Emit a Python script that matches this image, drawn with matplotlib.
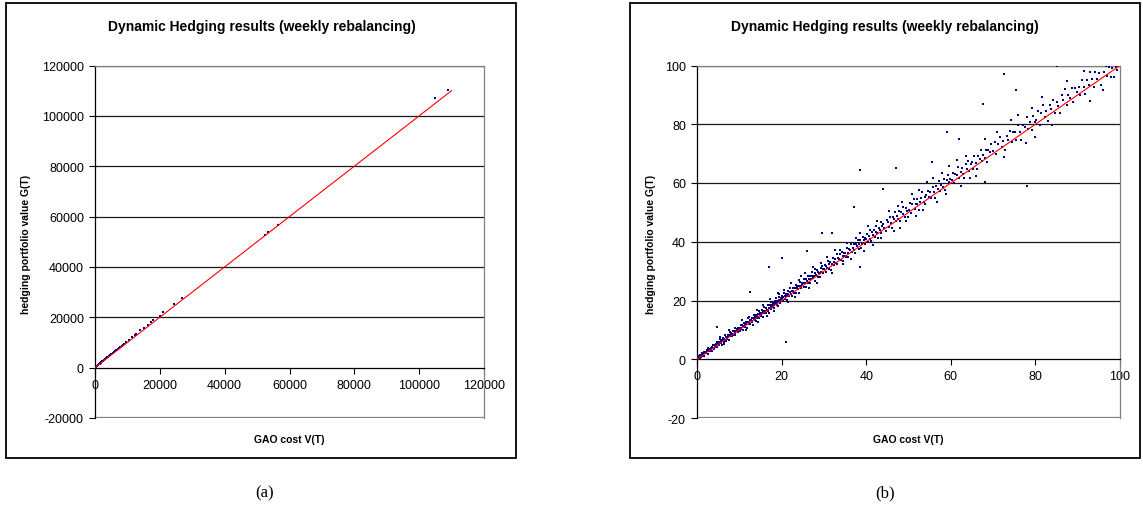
import matplotlib.pyplot as plt
from matplotlib.patches import Rectangle

plt.rcParams["font.family"] = ["Liberation Sans", "DejaVu Sans"]
plt.rcParams["axes.unicode_minus"] = False

# GAO cost V(T) vs hedging portfolio value G(T) (0-100)
gao_cost = [
    # 0-5
    0.1, 0.2, 0.3, 0.4, 0.5, 0.6, 0.7, 0.8, 0.9, 1.0, 1.1, 1.2, 1.4, 1.5, 1.6, 1.7, 1.9, 2.0, 2.1, 2.3,
    2.4, 2.5, 2.7, 2.8, 2.9, 3.1, 3.2, 3.3, 3.5, 3.6, 3.7, 3.9, 4.0, 4.1, 4.3, 4.4, 4.5, 4.7, 4.8, 4.9,
    # 5-10
    5.0, 5.1, 5.2, 5.3, 5.5, 5.6, 5.7, 5.8, 5.9, 6.1, 6.2, 6.3, 6.4, 6.6, 6.7, 6.8, 6.9, 7.0, 7.2, 7.3,
    7.4, 7.5, 7.7, 7.8, 7.9, 8.0, 8.1, 8.3, 8.4, 8.5, 8.6, 8.8, 8.9, 9.0, 9.1, 9.2, 9.4, 9.5, 9.6, 9.7,
    9.8, 9.9, 5.4, 6.5, 7.6,
    # 10-15
    10.0, 10.1, 10.3, 10.4, 10.5, 10.7, 10.8, 10.9, 11.0, 11.2, 11.3, 11.4, 11.6, 11.7, 11.8, 12.0,
    12.1, 12.2, 12.4, 12.5, 12.6, 12.8, 12.9, 13.0, 13.1, 13.3, 13.4, 13.5, 13.7, 13.8, 13.9, 14.0,
    14.2, 14.3, 14.4, 14.6, 14.7, 14.8, 14.9, 10.6, 11.5, 12.3, 13.2, 14.1, 14.5,
    # 15-20
    15.0, 15.1, 15.3, 15.4, 15.5, 15.7, 15.8, 15.9, 16.0, 16.2, 16.3, 16.4, 16.6, 16.7, 16.8, 17.0,
    17.1, 17.2, 17.4, 17.5, 17.6, 17.8, 17.9, 18.0, 18.1, 18.3, 18.4, 18.5, 18.7, 18.8, 18.9, 19.0,
    19.2, 19.3, 19.4, 19.6, 19.7, 19.8, 19.9, 15.6, 16.5, 17.3, 18.2, 19.1, 19.5,
    # 20-25
    20.0, 20.1, 20.3, 20.4, 20.6, 20.7, 20.9, 21.0, 21.2, 21.3, 21.5, 21.6, 21.8, 21.9, 22.1, 22.2,
    22.4, 22.5, 22.7, 22.8, 23.0, 23.1, 23.3, 23.4, 23.6, 23.7, 23.9, 24.0, 24.2, 24.3, 24.5, 24.6,
    24.8, 24.9, 20.5, 21.4, 22.3, 23.2, 24.1, 24.7,
    # 25-30
    25.0, 25.2, 25.3, 25.5, 25.7, 25.8, 26.0, 26.2, 26.3, 26.5, 26.7, 26.8, 27.0, 27.2, 27.3, 27.5,
    27.7, 27.8, 28.0, 28.2, 28.3, 28.5, 28.7, 28.8, 29.0, 29.2, 29.3, 29.5, 29.7, 29.8, 25.6, 26.4,
    27.4, 28.4, 29.4, 27.9,
    # 30-35
    30.0, 30.2, 30.4, 30.5, 30.7, 30.9, 31.1, 31.3, 31.5, 31.7, 31.9, 32.1, 32.3, 32.5, 32.6, 32.8,
    33.0, 33.2, 33.4, 33.6, 33.8, 34.0, 34.2, 34.4, 34.6, 34.8, 34.9, 30.8, 31.8, 32.7, 33.7, 34.5,
    # 35-40
    35.0, 35.2, 35.4, 35.6, 35.8, 36.0, 36.2, 36.4, 36.6, 36.8, 37.0, 37.2, 37.4, 37.6, 37.8, 38.0,
    38.2, 38.4, 38.6, 38.8, 39.0, 39.2, 39.4, 39.6, 39.8, 35.5, 36.5, 37.5, 38.5, 39.5,
    # 40-45
    40.0, 40.2, 40.4, 40.6, 40.8, 41.0, 41.2, 41.4, 41.6, 41.8, 42.0, 42.2, 42.4, 42.6, 42.8, 43.0,
    43.2, 43.4, 43.6, 43.8, 44.0, 44.3, 44.6, 44.9, 40.5, 41.5, 42.5, 43.5,
    # 45-50
    45.1, 45.3, 45.6, 45.8, 46.1, 46.3, 46.6, 46.8, 47.1, 47.3, 47.6, 47.8, 48.1, 48.3, 48.6, 48.8,
    49.1, 49.3, 49.6, 49.8, 45.5, 46.5, 47.5, 48.5, 49.5, 48.0,
    # 50-55
    50.1, 50.3, 50.6, 50.9, 51.2, 51.5, 51.8, 52.1, 52.4, 52.7, 53.0, 53.3, 53.6, 53.9, 54.2, 54.5,
    54.8, 50.8, 51.7, 52.6, 53.5, 54.4, 52.0, 54.0,
    # 55-60
    55.1, 55.4, 55.7, 56.0, 56.3, 56.6, 56.9, 57.2, 57.5, 57.8, 58.1, 58.4, 58.7, 59.0, 59.3, 59.6,
    59.9, 55.8, 56.8, 57.9, 58.9, 59.5,
    # 60-65
    60.2, 60.5, 60.8, 61.1, 61.4, 61.7, 62.0, 62.3, 62.6, 62.9, 63.2, 63.5, 63.8, 64.1, 64.4, 64.7,
    61.5, 62.5, 63.5, 64.5,
    # 65-70
    65.0, 65.3, 65.6, 65.9, 66.2, 66.5, 66.8, 67.1, 67.4, 67.7, 68.0, 68.3, 68.6, 68.9, 69.2, 69.5,
    66.0, 68.2,
    # 70-75
    70.0, 70.4, 70.8, 71.2, 71.6, 72.0, 72.4, 72.8, 73.2, 73.6, 74.0, 74.4, 74.8, 71.0, 72.6, 74.2,
    # 75-80
    75.1, 75.5, 75.9, 76.3, 76.7, 77.1, 77.5, 77.9, 78.3, 78.7, 79.1, 79.5, 79.9, 76.0, 77.7, 79.3,
    # 80-90
    80.2, 80.6, 81.0, 81.4, 81.8, 82.2, 82.6, 83.0, 83.4, 83.8, 84.2, 84.6, 85.0, 85.4, 85.8, 86.2,
    86.6, 87.0, 87.4, 87.8, 88.2, 88.6, 89.0, 89.4, 89.8, 81.5, 84.0, 87.5,
    # 90-100
    90.2, 90.6, 91.0, 91.4, 91.8, 92.2, 92.6, 93.0, 93.4, 93.8, 94.2, 94.6, 95.0, 95.4, 95.8, 96.2,
    96.6, 97.0, 97.4, 97.8, 98.2, 98.6, 99.0, 99.4, 91.5, 96.0,
]
hedge_value = [
    0.4, 0.1, 1.0, 0.6, 1.0, 0.3, 1.6, 0.9, 1.3, 0.6, 1.7, 2.0, 1.2, 1.8, 2.6, 1.2, 2.4, 2.2, 2.0, 3.0,
    2.8, 1.9, 3.8, 2.8, 3.5, 2.8, 4.0, 3.6, 2.8, 4.1, 4.9, 4.0, 3.6, 5.0, 4.5, 4.2, 5.1, 6.0, 4.3, 5.3,
    5.2, 6.0, 4.8, 5.9, 6.8, 5.5, 6.1, 5.0, 6.7, 6.2, 7.3, 6.0, 6.9, 6.6, 8.1, 6.2, 7.6, 7.3, 7.0, 8.3,
    7.8, 6.6, 8.3, 9.3, 7.8, 8.2, 9.0, 7.8, 8.7, 9.7, 8.4, 9.5, 8.9, 10.6, 8.4, 9.7, 9.5, 10.3, 9.2, 10.8,
    10.1, 9.8, 7.5, 5.2, 10.0,
    10.5, 9.5, 11.5, 10.6, 10.3, 11.6, 9.9, 11.3, 12.5, 11.2, 12.0, 11.0, 12.7, 12.0, 10.7, 12.6,
    13.9, 12.0, 12.6, 13.5, 11.9, 13.3, 14.2, 13.1, 12.6, 14.1, 13.7, 15.1, 13.4, 14.4, 12.9, 15.2,
    14.6, 14.2, 15.3, 16.5, 14.1, 15.1, 15.6, 13.2, 9.9, 14.5, 11.8, 16.9, 12.7,
    15.8, 14.7, 16.8, 15.6, 14.5, 16.3, 17.7, 15.7, 16.4, 17.4, 15.6, 17.3, 16.6, 18.3, 16.5, 17.5,
    15.9, 18.3, 17.7, 19.5, 17.1, 18.5, 19.3, 17.9, 18.3, 17.5, 19.7, 19.1, 20.9, 18.4, 19.0, 20.0,
    18.1, 20.1, 21.1, 19.9, 19.1, 21.0, 20.4, 18.5, 14.8, 20.4, 16.3, 22.5, 22.1,
    20.4, 21.7, 19.7, 21.3, 22.7, 20.5, 21.5, 22.3, 20.1, 21.5, 23.3, 22.1, 21.4, 22.9, 24.4, 22.2,
    23.1, 21.6, 24.2, 23.1, 22.7, 24.2, 25.3, 22.7, 24.1, 25.1, 24.0, 22.7, 25.1, 26.2, 24.9, 24.1,
    26.0, 25.5, 23.7, 19.6, 25.8, 21.2, 27.0, 28.5,
    26.0, 24.7, 27.2, 25.8, 24.7, 27.2, 26.6, 28.4, 26.1, 27.4, 28.3, 26.0, 27.2, 28.4, 29.8, 27.5,
    28.4, 26.6, 29.5, 28.6, 30.3, 28.1, 29.8, 29.4, 28.1, 31.0, 29.6, 31.9, 29.4, 30.8, 29.2, 24.3,
    31.4, 26.1, 32.7, 30.7,
    30.6, 32.2, 29.7, 31.7, 30.9, 33.5, 30.8, 32.3, 33.2, 30.5, 32.4, 34.3, 33.2, 32.0, 34.0, 32.9,
    35.8, 32.3, 34.5, 34.0, 35.7, 33.8, 36.6, 35.1, 33.5, 36.3, 35.2, 34.7, 29.4, 37.1, 37.3, 32.5,
    36.3, 34.8, 37.8, 36.1, 34.8, 37.7, 37.1, 39.3, 36.4, 38.0, 37.3, 39.3, 36.1, 39.1, 38.4, 40.6,
    37.7, 39.4, 40.5, 37.9, 39.4, 41.5, 40.5, 39.3, 41.4, 39.7, 34.2, 41.4, 43.1, 36.9,
    40.8, 42.8, 39.8, 42.1, 41.0, 44.0, 40.1, 43.3, 42.3, 44.1, 41.7, 43.4, 45.2, 43.0, 41.4, 44.7,
    44.1, 46.6, 43.1, 45.2, 46.1, 44.6, 43.6, 47.4, 45.3, 38.8, 47.0, 41.3,
    46.7, 44.9, 48.3, 46.4, 44.8, 48.3, 47.7, 50.1, 46.9, 48.8, 47.9, 50.3, 47.1, 50.1, 49.4, 51.8,
    48.5, 51.5, 50.6, 48.3, 50.5, 43.7, 52.1, 53.7, 47.1, 44.7,
    50.8, 53.2, 49.8, 52.7, 54.6, 51.2, 53.0, 54.5, 50.9, 53.6, 55.0, 56.9, 53.7, 52.8, 55.8, 57.2,
    55.2, 56.2, 48.7, 57.5, 50.9, 60.2, 53.0, 55.3,
    57.0, 54.9, 58.8, 56.8, 54.9, 58.9, 58.1, 60.8, 57.4, 59.4, 58.6, 61.2, 57.5, 61.0, 62.7, 60.3,
    61.4, 61.8, 53.6, 63.4, 56.2, 65.8,
    61.0, 63.5, 59.9, 63.2, 62.7, 65.4, 61.6, 63.9, 65.1, 63.1, 61.7, 66.3, 64.8, 67.5, 64.2, 66.6,
    67.9, 59.1, 69.3, 61.6,
    67.1, 64.7, 69.1, 66.9, 64.6, 69.1, 68.2, 71.1, 67.4, 69.6, 68.6, 71.4, 67.3, 71.3, 70.4, 73.2,
    62.4, 75.0,
    71.0, 73.8, 69.8, 73.4, 75.8, 72.4, 74.2, 71.2, 76.1, 74.7, 77.8, 73.9, 77.2, 77.5, 68.8, 81.4,
    77.4, 74.7, 79.8, 77.5, 74.8, 79.8, 79.0, 82.3, 78.5, 80.7, 77.9, 82.7, 80.9, 83.0, 73.7, 85.4,
    81.4, 84.4, 79.9, 83.9, 86.4, 82.5, 84.6, 81.2, 86.7, 85.2, 88.4, 84.0, 87.7, 86.3, 83.8, 89.8,
    88.4, 91.9, 86.5, 90.1, 88.8, 92.5, 87.5, 92.2, 90.9, 89.3, 79.7, 94.7,
    92.6, 89.8, 95.1, 92.7, 90.2, 95.2, 93.3, 97.8, 95.3, 92.6, 97.7, 95.5, 97.6, 93.3, 100.1, 97.8,
    99.8, 96.4, 99.6, 96.0, 99.3, 96.2, 99.5, 98.5, 98.0, 91.5,
]

# isolated points well away from the band
gao_cost_outlier = [38.5, 47.0, 21.0, 72.5, 75.5, 67.5, 78.0, 17.0, 12.5, 38.5, 37.0, 20.0,
                    29.5, 32.0, 59.0, 62.0, 68.0, 85.0, 4.7, 26.0, 44.0, 55.5, 80.0, 93.0]
hedge_value_outlier = [64.5, 65.0, 6.0, 97.0, 91.5, 87.0, 59.0, 31.5, 23.0, 31.5, 52.0, 34.5,
                       43.0, 43.0, 77.5, 75.0, 60.5, 100.0, 11.1, 37.0, 58.0, 67.0, 75.5, 88.0]

# large-cost scenarios only visible on the full-range panel
gao_cost_large = [
    150, 300, 450, 600, 800, 1000, 1200, 1400, 1600, 1800, 2000, 2300, 2600, 2900, 3200, 3500, 3800,
    4100, 4400, 4700, 5000, 5400, 5800, 6200, 6600, 7000, 7400, 7800, 8200, 8600, 9000, 9500, 10500,
    11500, 12200, 12800, 14000, 15200, 16300, 17200, 18000, 20000, 21000, 24500, 26800, 52400, 53300,
    56500, 105000, 109000,
]
hedge_value_large = [
    180, 340, 500, 660, 870, 1080, 1300, 1510, 1720, 1930, 2150, 2470, 2790, 3110, 3430, 3750, 4070,
    4390, 4700, 5020, 5340, 5760, 6180, 6600, 7030, 7450, 7870, 8290, 8720, 9140, 9560, 10000, 11050,
    12100, 12800, 13400, 14800, 15700, 17000, 18100, 18900, 20600, 22100, 25200, 27500, 52500, 54000,
    56800, 107000, 110200,
]

# reference line G(T) = V(T)
diag_x = [0, 110000]
diag_y = [0, 110000]

panels = [
    dict(rect=[95 / 1143, 91 / 510, 389 / 1143, 352.5 / 510],
         xlim=(0, 120000), ylim=(-20000, 120000), step=20000, msize=2.8,
         box=(6, 4, 510, 455), title_x=262, ylab_x=26, cap="(a)", cap_x=265),
    dict(rect=[697 / 1143, 91 / 510, 423 / 1143, 352.5 / 510],
         xlim=(0, 100), ylim=(-20, 100), step=20, msize=4.3,
         box=(630, 4, 510, 455), title_x=885, ylab_x=651, cap="(b)", cap_x=885),
]

fig = plt.figure(figsize=(11.43, 5.10), dpi=100)

xs = gao_cost + gao_cost_outlier + gao_cost_large
ys = hedge_value + hedge_value_outlier + hedge_value_large

for p in panels:
    # outer chart frame
    bx, by, bw, bh = p["box"]
    fig.patches.append(Rectangle((bx / 1143, 1 - (by + bh) / 510), bw / 1143, bh / 510,
                                 transform=fig.transFigure, fill=False,
                                 edgecolor="black", linewidth=1.3))

    ax = fig.add_axes(p["rect"])
    ax.scatter(xs, ys, s=p["msize"], marker="s", color="#000080", linewidths=0, zorder=3)
    ax.plot(diag_x, diag_y, color="#ff0000", linewidth=0.8, zorder=4)

    lo, hi = p["xlim"]
    ax.set_xlim(lo, hi)
    ax.set_ylim(*p["ylim"])
    ticks_y = list(range(p["ylim"][0], p["ylim"][1] + 1, p["step"]))
    ticks_x = list(range(lo, hi + 1, p["step"]))
    ax.set_yticks(ticks_y)
    ax.set_xticks(ticks_x)
    ax.tick_params(axis="both", direction="out", length=4, width=0.8,
                   labelsize=9, pad=4, color="black")

    for t in ticks_y[2:]:
        ax.axhline(t, color="#1a1a1a", linewidth=0.9, zorder=1)

    # plot-area border in gray, axes in black
    ax.spines["top"].set_color("#808080")
    ax.spines["right"].set_color("#808080")
    ax.spines["left"].set_color("black")
    ax.spines["bottom"].set_position(("data", 0))
    ax.spines["bottom"].set_color("black")
    ax.axhline(p["ylim"][0], color="#808080", linewidth=1.6, zorder=1)
    for s in ax.spines.values():
        s.set_linewidth(0.9)

    fig.text(p["title_x"] / 1143, 1 - 27 / 510,
             "Dynamic Hedging results (weekly rebalancing)",
             ha="center", va="center", fontsize=10, fontweight="bold")
    fig.text(p["ylab_x"] / 1143, 1 - 244 / 510, "hedging portfolio value G(T)",
             ha="center", va="center", rotation=90, fontsize=7.5, fontweight="bold")
    fig.text((p["rect"][0] + p["rect"][2] / 2), 1 - 440 / 510, "GAO cost V(T)",
             ha="center", va="center", fontsize=7.5, fontweight="bold")
    fig.text(p["cap_x"] / 1143, 1 - 493 / 510, p["cap"],
             ha="center", va="center", fontsize=12, family="Liberation Serif")

fig.savefig("out.png", dpi=100)
